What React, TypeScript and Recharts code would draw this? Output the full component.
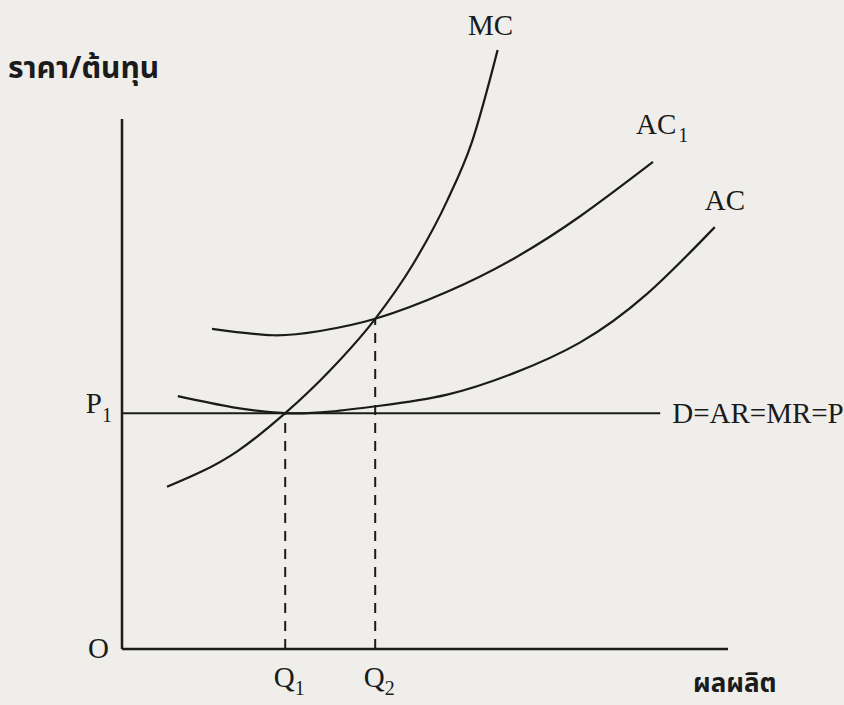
import { ComposedChart, Line, XAxis, YAxis, ReferenceLine, ReferenceDot } from 'recharts';

// Quantity (x) and price / cost (y), in chart units
const P1 = 44.5;
const Q1 = 27.2;
const Q2 = 42.2;
const Q2_COST = 62.3; // MC meets AC1 here
const DEMAND_END = 89.7;
const COST_AXIS_TOP = 100;

const mcQty = [7.5, 19.2, 27.2, 34.7, 42.2, 48.5, 54.2, 58.3, 62.6];
const mcCost = [30.6, 37.3, 44.5, 52.6, 62.3, 72.6, 84.6, 95.6, 113.0];

const ac1Qty = [15.0, 25.2, 33.0, 42.2, 54.2, 65.2, 76.3, 88.5];
const ac1Cost = [60.4, 59.2, 60.0, 62.3, 67.4, 73.6, 81.6, 91.9];

const acQty = [9.3, 18.5, 27.2, 34.7, 43.0, 54.2, 65.2, 76.3, 87.5, 98.8];
const acCost = [47.7, 45.6, 44.5, 44.8, 45.9, 48.0, 52.0, 57.8, 67.0, 79.6];

const xTicks = [Q1, Q2];
const xTickLabels = ['Q', 'Q'];
const xTickSubs = ['1', '2'];
const yTicks = [0, P1];

const toPoints = (qty: number[], cost: number[]) => qty.map((q, i) => ({ q, c: cost[i] }));
const mc = toPoints(mcQty, mcCost);
const ac1 = toPoints(ac1Qty, ac1Cost);
const ac = toPoints(acQty, acCost);

const INK = '#1b1b1b';
const SERIF = "'Liberation Serif', 'Times New Roman', serif";
const THAI = "'Noto Sans Thai', 'Loma', 'Garuda', 'Noto Sans', sans-serif";

const QtyTick = ({ x, y, payload }: any) => {
  const i = xTicks.indexOf(payload.value);
  return (
    <text x={x + 4} y={y + 38} textAnchor="middle" fontFamily={SERIF} fontSize={29} fill={INK}>
      {xTickLabels[i]}
      <tspan dy={8} fontSize={20}>{xTickSubs[i]}</tspan>
    </text>
  );
};

const PriceTick = ({ x, y, payload }: any) => {
  if (payload.value === 0) {
    return (
      <text x={x - 13} y={y + 9} textAnchor="end" fontFamily={SERIF} fontSize={29} fill={INK}>O</text>
    );
  }
  return (
    <text x={x - 10} y={y} textAnchor="end" fontFamily={SERIF} fontSize={29} fill={INK}>
      P<tspan dy={9} fontSize={20}>1</tspan>
    </text>
  );
};

// text placed relative to a curve's end point
const curveLabel = (name: string, sub: string, dx: number, dy: number, anchor = 'start') => (props: any) => {
  const { viewBox } = props;
  return (
    <text x={viewBox.x + dx} y={viewBox.y + dy} textAnchor={anchor} fontFamily={SERIF} fontSize={29} fill={INK}>
      {name}
      {sub && <tspan dy={8} dx={2} fontSize={20}>{sub}</tspan>}
    </text>
  );
};

const last = (arr: { q: number; c: number }[]) => arr[arr.length - 1];

export default function App() {
  return (
    <div style={{ position: 'relative', width: 844, height: 705, background: '#efeeea' }}>
      <style>{'body{margin:0}'}</style>
      <ComposedChart width={844} height={705} margin={{ top: 13, right: 116, bottom: 0, left: 0 }}>
        <XAxis
          type="number"
          dataKey="q"
          domain={[0, 101]}
          ticks={xTicks}
          tick={<QtyTick />}
          tickLine={false}
          tickSize={0}
          tickMargin={0}
          height={56}
          axisLine={{ stroke: INK, strokeWidth: 2.5 }}
          allowDuplicatedCategory={false}
        />
        <YAxis
          type="number"
          dataKey="c"
          domain={[0, 120]}
          ticks={yTicks}
          tick={<PriceTick />}
          tickLine={false}
          tickSize={0}
          tickMargin={0}
          width={122}
          axisLine={false}
        />
        <ReferenceLine
          segment={[{ x: 0, y: 0 }, { x: 0, y: COST_AXIS_TOP }]}
          stroke={INK}
          strokeWidth={2.5}
        />
        <ReferenceLine
          segment={[{ x: 0, y: P1 }, { x: DEMAND_END, y: P1 }]}
          stroke={INK}
          strokeWidth={2}
          label={{ value: 'D=AR=MR=P', position: 'right', offset: 12, fill: INK, fontFamily: SERIF, fontSize: 29 }}
        />
        <ReferenceLine
          segment={[{ x: Q1, y: 0 }, { x: Q1, y: P1 }]}
          stroke={INK}
          strokeWidth={2}
          strokeDasharray="10 8"
        />
        <ReferenceLine
          segment={[{ x: Q2, y: 0 }, { x: Q2, y: Q2_COST }]}
          stroke={INK}
          strokeWidth={2}
          strokeDasharray="10 8"
        />
        <Line data={mc} dataKey="c" type="monotone" stroke={INK} strokeWidth={2.2} dot={false} isAnimationActive={false} />
        <Line data={ac1} dataKey="c" type="natural" stroke={INK} strokeWidth={2.2} dot={false} isAnimationActive={false} />
        <Line data={ac} dataKey="c" type="natural" stroke={INK} strokeWidth={2.2} dot={false} isAnimationActive={false} />
        <ReferenceDot x={last(mc).q} y={last(mc).c} r={0} stroke="none" fill="none" label={{ content: curveLabel('MC', '', -7, -15, 'middle') }} />
        <ReferenceDot x={last(ac1).q} y={last(ac1).c} r={0} stroke="none" fill="none" label={{ content: curveLabel('AC', '1', -17, -28) }} />
        <ReferenceDot x={last(ac).q} y={last(ac).c} r={0} stroke="none" fill="none" label={{ content: curveLabel('AC', '', -10, -17) }} />
      </ComposedChart>
      <svg width={844} height={705} style={{ position: 'absolute', left: 0, top: 0, pointerEvents: 'none' }}>
        <text x={8} y={78} fontFamily={THAI} fontSize={30} fontWeight="bold" fill={INK}>ราคา/ต้นทุน</text>
        <text x={693} y={692} fontFamily={THAI} fontSize={26} fontWeight="bold" fill={INK}>ผลผลิต</text>
      </svg>
    </div>
  );
}
